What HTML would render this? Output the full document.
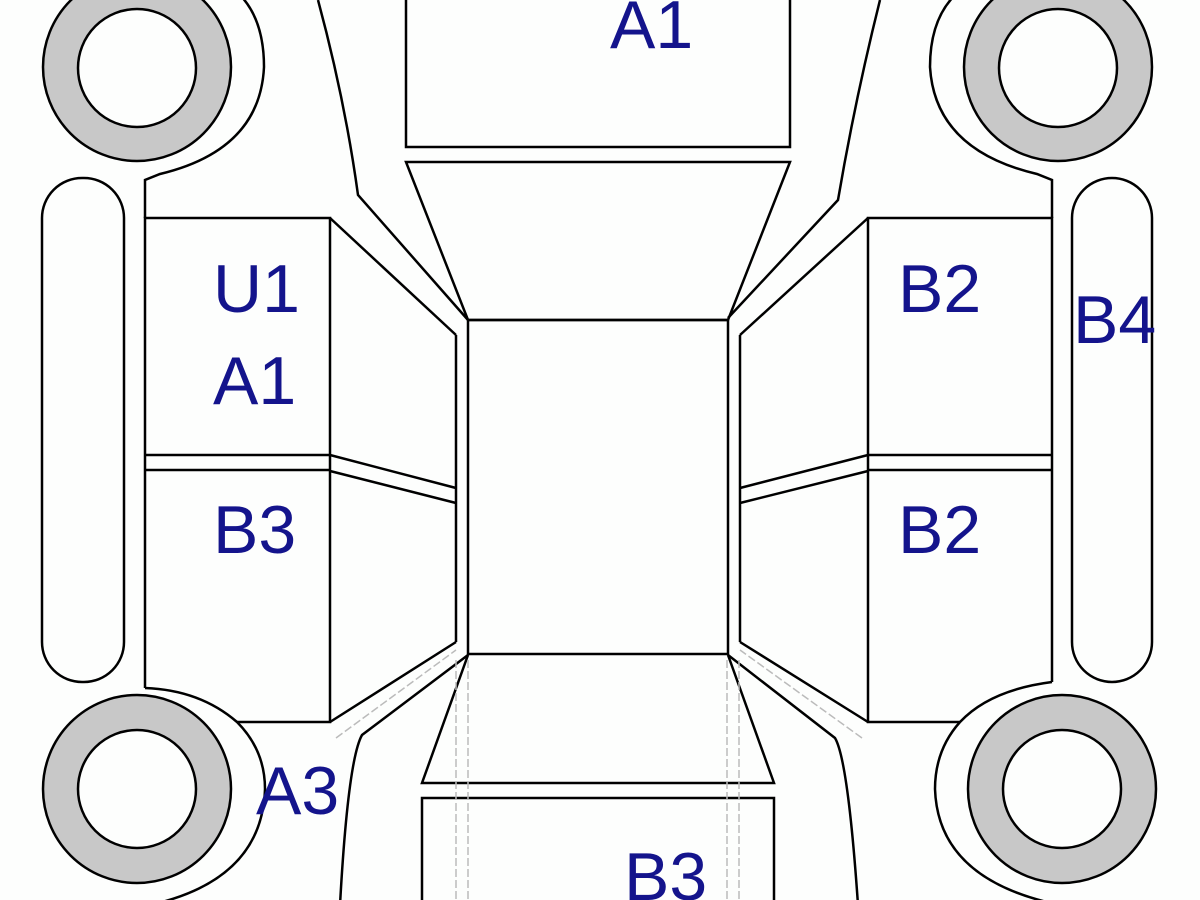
<!DOCTYPE html>
<html><head><style>html,body{margin:0;padding:0;background:#fdfefd;}svg{display:block}</style></head>
<body>
<svg width="1200" height="900" viewBox="0 0 1200 900" xmlns="http://www.w3.org/2000/svg">
<rect width="1200" height="900" fill="#fdfefd"/>
<g fill="none" stroke="#000" stroke-width="2.5">
<!-- wheels -->
<circle cx="137" cy="67" r="94" fill="#c8c8c8"/><circle cx="137" cy="68" r="59" fill="#fdfefd"/>
<circle cx="1058" cy="67" r="94" fill="#c8c8c8"/><circle cx="1058" cy="68" r="59" fill="#fdfefd"/>
<circle cx="137" cy="789" r="94" fill="#c8c8c8"/><circle cx="137" cy="789" r="59" fill="#fdfefd"/>
<circle cx="1062" cy="789" r="94" fill="#c8c8c8"/><circle cx="1062" cy="789" r="59" fill="#fdfefd"/>
<!-- bumper pills -->
<rect x="42" y="178" width="82" height="504" rx="40"/>
<rect x="1072" y="178" width="80" height="504" rx="40"/>
<!-- wheel arches -->
<path d="M145 218 V180 L160 174 Q260 150 264 67 Q264 20 240 -5"/>
<path d="M1052 218 V180 L1037 174 Q935 150 930 67 Q930 20 955 -5"/>
<path d="M145 688 Q200 690 237 722 Q265 750 265 789 Q262 880 150 905"/>
<path d="M1052 682 Q990 690 960 722 Q935 750 935 789 Q938 880 1060 905"/>
<!-- side panels -->
<path d="M145 688 V218 H330 V722 H237 M145 455 H330 M145 470 H330"/>
<path d="M1052 682 V218 H868 V722 H960 M868 455 H1052 M868 470 H1052"/>
<!-- hood -->
<path d="M406 0 V147 H790 V0"/>
<path d="M406 162 H790 L728 320 H468 Z"/>
<!-- roof -->
<rect x="468" y="320" width="260" height="334"/>
<path d="M456 335 V642 M740 335 V642"/>
<!-- pillars -->
<path d="M318 0 Q345 100 358 195 L468 320"/>
<path d="M330 218 L456 335"/>
<path d="M880 0 Q855 100 838 200 L728 318"/>
<path d="M868 218 L740 335"/>
<path d="M330 455 L456 488 M330 471 L456 503"/>
<path d="M868 455 L740 488 M868 471 L740 503"/>
<path d="M330 722 L456 642 M468 655 L362 735 Q348 760 340 905"/>
<path d="M868 722 L740 642 M728 655 L835 738 Q848 760 858 905"/>
<!-- trunk -->
<path d="M468 655 L422 783 H774 L728 655"/>
<path d="M422 905 V798 H774 V905"/>
</g>
<g stroke="#bbb" stroke-width="1.5" stroke-dasharray="8 3" fill="none">
<path d="M456 660 V900 M468 660 V900 M727 660 V900 M739 660 V900"/>
<path d="M336 738 L456 650 M862 738 L740 650"/>
</g>
<g fill="#14148c" font-family="Liberation Sans, Arial, sans-serif" font-size="68">
<text x="610" y="48">A1</text>
<text x="213" y="312">U1</text>
<text x="213" y="404">A1</text>
<text x="213" y="553">B3</text>
<text x="256" y="814">A3</text>
<text x="898" y="312">B2</text>
<text x="898" y="553">B2</text>
<text x="1073" y="343">B4</text>
<text x="624" y="900">B3</text>
</g>
</svg>
</body></html>
